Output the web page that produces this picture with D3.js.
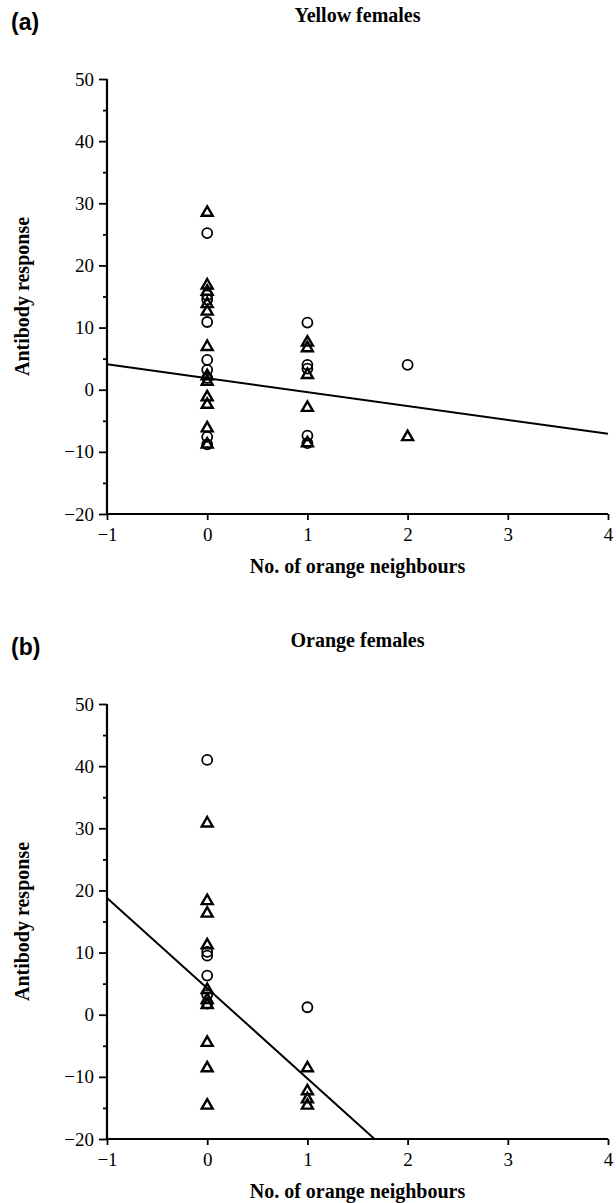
<!DOCTYPE html>
<html><head><meta charset="utf-8">
<script src="https://cdn.jsdelivr.net/npm/d3@7/dist/d3.min.js"></script>
<style>body{margin:0;background:#fff}svg{display:block}</style>
</head><body>
<script>
// Data
const xTicks = [-1, 0, 1, 2, 3, 4];
const yTicks = [-20, -10, 0, 10, 20, 30, 40, 50];
const yMinorTicks = [-15, -5, 5, 15, 25, 35, 45];

const panelLabels = ["(a)", "(b)"];
const panelTitles = ["Yellow females", "Orange females"];

// Panel (a) Yellow females
const aCirclesX = [0, 0, 0, 0, 0, 0, 0, 0, 0, 1, 1, 1, 1, 1, 2];
const aCirclesY = [25.2, 15.2, 14.5, 10.9, 4.8, 3.2, 1.9, -7.6, -8.8, 10.8, 4.0, 3.4, -7.4, -8.6, 4.0];
const aTrianglesX = [0, 0, 0, 0, 0, 0, 0, 0, 0, 0, 0, 0, 1, 1, 1, 1, 1, 2];
const aTrianglesY = [28.5, 16.8, 15.8, 13.8, 12.6, 6.9, 2.2, 1.3, -1.2, -2.4, -6.2, -8.8, 7.6, 6.7, 2.4, -2.9, -8.6, -7.6];
const aLineX = [-1, 4];
const aLineY = [4.1, -7.1];

// Panel (b) Orange females
const bCirclesX = [0, 0, 0, 0, 0, 0, 1];
const bCirclesY = [41.0, 10.1, 9.5, 6.3, 3.2, 1.8, 1.2];
const bTrianglesX = [0, 0, 0, 0, 0, 0, 0, 0, 0, 0, 1, 1, 1, 1];
const bTrianglesY = [30.8, 18.3, 16.3, 11.2, 4.0, 2.4, 1.6, -4.5, -8.6, -14.6, -8.6, -12.3, -13.6, -14.6];
const bLineX = [-1, 1.67];
const bLineY = [18.8, -20];

const W = 616, H = 1203;
const svg = d3.select("body").append("svg").attr("width", W).attr("height", H);

const serif = "'Liberation Serif','Times New Roman',serif";

const panels = [
  {top: 79, cx: aCirclesX, cy: aCirclesY, tx: aTrianglesX, ty: aTrianglesY, lx: aLineX, ly: aLineY},
  {top: 704, cx: bCirclesX, cy: bCirclesY, tx: bTrianglesX, ty: bTrianglesY, lx: bLineX, ly: bLineY}
];

panels.forEach((p, i) => {
  const left = 107, right = 608, top = p.top, bottom = p.top + 435;
  const x = d3.scaleLinear().domain([-1, 4]).range([left, right]);
  const y = d3.scaleLinear().domain([-20, 50]).range([bottom, top]);
  const g = svg.append("g");

  // panel label
  g.append("text").attr("x", 11).attr("y", top - 49)
    .attr("font-family", "'Liberation Sans',Arial,sans-serif").attr("font-weight", "bold")
    .attr("font-size", 23).text(panelLabels[i]);
  // title
  g.append("text").attr("x", (left + right) / 2).attr("y", top - 57)
    .attr("text-anchor", "middle").attr("font-family", serif).attr("font-weight", "bold")
    .attr("font-size", 20).text(panelTitles[i]);

  // y axis
  const yAxis = d3.axisLeft(y).tickValues(yTicks).tickSize(8).tickPadding(5)
    .tickFormat(d => d < 0 ? "\u2212" + Math.abs(d) : d);
  const ya = g.append("g").attr("transform", `translate(${left},0)`).call(yAxis);
  ya.select(".domain").attr("stroke-width", 2.2).attr("d", `M0,${top}V${bottom}`);
  ya.selectAll(".tick line").attr("stroke-width", 1.8);
  ya.selectAll("text").attr("font-family", serif).attr("font-size", 19).attr("fill", "#000");
  const yMinor = d3.axisLeft(y).tickValues(yMinorTicks).tickSize(4).tickFormat("");
  const ym = g.append("g").attr("transform", `translate(${left},0)`).call(yMinor);
  ym.select(".domain").remove();
  ym.selectAll(".tick line").attr("stroke-width", 1.8);

  // x axis
  const xAxis = d3.axisBottom(x).tickValues(xTicks).tickSize(6).tickPadding(8)
    .tickFormat(d => d < 0 ? "\u2212" + Math.abs(d) : d);
  const xa = g.append("g").attr("transform", `translate(0,${bottom})`).call(xAxis);
  xa.select(".domain").attr("stroke-width", 2.2).attr("d", `M${left},0H${right}`);
  xa.selectAll(".tick line").attr("stroke-width", 1.8);
  xa.selectAll("text").attr("font-family", serif).attr("font-size", 19).attr("fill", "#000");

  // axis titles
  g.append("text").attr("x", (left + right) / 2).attr("y", bottom + 59)
    .attr("text-anchor", "middle").attr("font-family", serif).attr("font-weight", "bold")
    .attr("font-size", 20).text("No. of orange neighbours");
  g.append("text").attr("transform", `translate(29,${(top + bottom) / 2}) rotate(-90)`)
    .attr("text-anchor", "middle").attr("font-family", serif).attr("font-weight", "bold")
    .attr("font-size", 20).text("Antibody response");

  // regression line
  const lineData = p.lx.map((v, k) => [v, p.ly[k]]);
  g.append("path").datum(lineData)
    .attr("d", d3.line().x(d => x(d[0])).y(d => y(d[1])))
    .attr("stroke", "#000").attr("stroke-width", 2).attr("fill", "none");

  // circles
  const circ = p.cx.map((v, k) => [v, p.cy[k]]);
  g.selectAll(".c").data(circ).enter().append("circle")
    .attr("cx", d => x(d[0])).attr("cy", d => y(d[1])).attr("r", 5)
    .attr("fill", "none").attr("stroke", "#000").attr("stroke-width", 1.8);

  // triangles
  const tri = p.tx.map((v, k) => [v, p.ty[k]]);
  const triSym = d3.symbol().type(d3.symbolTriangle).size(52);
  g.selectAll(".t").data(tri).enter().append("path")
    .attr("d", triSym)
    .attr("transform", d => `translate(${x(d[0])},${y(d[1])})`)
    .attr("fill", "none").attr("stroke", "#000").attr("stroke-width", 2.4)
    .attr("stroke-linejoin", "miter");
});
</script>
</body></html>
